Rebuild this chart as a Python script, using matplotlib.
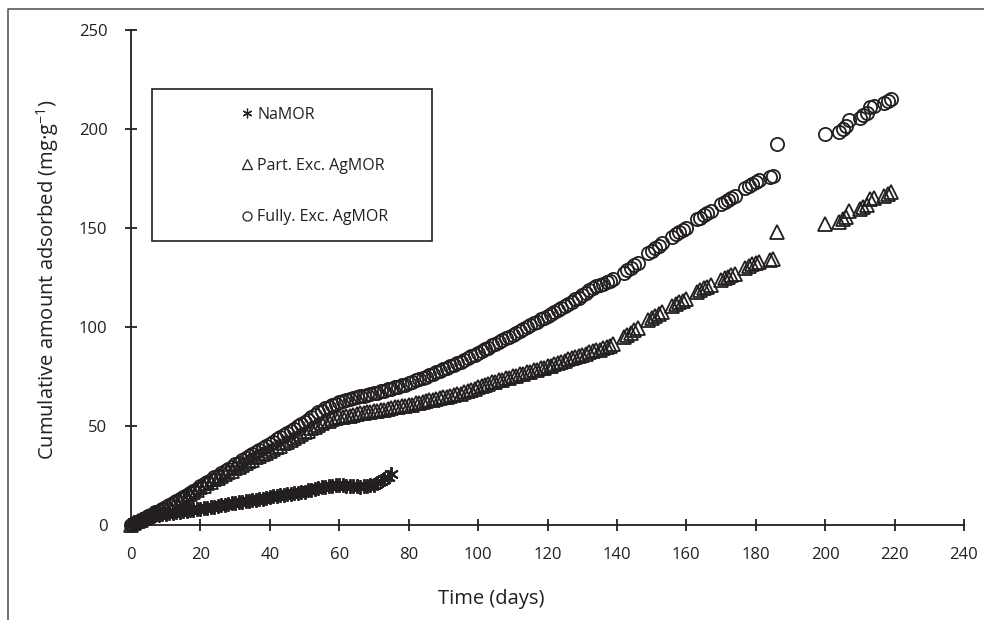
import matplotlib.pyplot as plt
from matplotlib.lines import Line2D
from matplotlib.patches import Rectangle

plt.rcParams['font.family'] = ['Open Sans', 'DejaVu Sans']
plt.rcParams['mathtext.fontset'] = 'custom'
plt.rcParams['mathtext.rm'] = 'Open Sans'
plt.rcParams['mathtext.default'] = 'regular'

INK = '#231f20'

# sampling days (daily up to day 135, then weekday clusters)
days_daily = [
    0, 1, 2, 3, 4, 5, 6, 7, 8, 9, 10,
    11, 12, 13, 14, 15, 16, 17, 18, 19, 20,
    21, 22, 23, 24, 25, 26, 27, 28, 29, 30,
    31, 32, 33, 34, 35, 36, 37, 38, 39, 40,
    41, 42, 43, 44, 45, 46, 47, 48, 49, 50,
    51, 52, 53, 54, 55, 56, 57, 58, 59, 60,
    61, 62, 63, 64, 65, 66, 67, 68, 69, 70,
    71, 72, 73, 74, 75, 76, 77, 78, 79, 80,
    81, 82, 83, 84, 85, 86, 87, 88, 89, 90,
    91, 92, 93, 94, 95, 96, 97, 98, 99, 100,
    101, 102, 103, 104, 105, 106, 107, 108, 109, 110,
    111, 112, 113, 114, 115, 116, 117, 118, 119, 120,
    121, 122, 123, 124, 125, 126, 127, 128, 129, 130,
    131, 132, 133, 134, 135]
days_late = [136, 137, 138, 139, 142, 143, 144, 145, 146,
             149, 150, 151, 152, 153, 156, 157, 158, 159, 160,
             163, 164, 165, 166, 167, 170, 171, 172, 173, 174,
             177, 178, 179, 180, 181, 184, 185, 186,
             200, 204, 205, 206, 207, 210, 211, 212, 213, 214,
             217, 218, 219]

namor_days = days_daily[:76]
namor = [0.0, 1.3, 2.1, 3.1, 3.5, 4.2, 4.4, 4.9, 5.0, 5.5, 5.6,
         6.1, 6.1, 6.6, 6.6, 7.1, 7.1, 7.6, 7.6, 8.1, 8.1,
         8.6, 8.7, 9.2, 9.3, 9.8, 9.9, 10.3, 10.4, 10.9, 10.9,
         11.4, 11.5, 12.0, 12.1, 12.6, 12.7, 13.2, 13.3, 13.8, 13.9,
         14.4, 14.5, 15.0, 15.1, 15.6, 15.7, 16.2, 16.3, 16.8, 16.9,
         17.5, 17.7, 18.3, 18.5, 19.1, 19.2, 19.7, 19.7, 20.1, 20.0,
         20.2, 19.9, 19.9, 19.5, 19.6, 19.4, 19.7, 19.7, 20.2, 20.4,
         21.4, 22.2, 23.4, 24.2, 25.6]

part = [0.0, 0.8, 1.9, 2.6, 3.7, 4.4, 5.4, 6.1, 7.2, 7.9, 9.1,
        9.8, 10.9, 11.6, 12.7, 13.4, 14.7, 15.5, 16.9, 17.7, 19.1,
        19.8, 21.0, 21.7, 23.0, 23.8, 25.0, 25.6, 26.8, 27.4, 28.6,
        29.3, 30.5, 31.1, 32.3, 32.9, 34.1, 34.7, 35.9, 36.5, 37.6,
        38.2, 39.4, 40.0, 41.2, 41.8, 43.1, 43.8, 45.1, 45.8, 47.1,
        47.7, 48.9, 49.5, 50.7, 51.3, 52.3, 52.6, 53.5, 53.8, 54.6,
        54.7, 55.2, 55.3, 55.8, 55.9, 56.4, 56.5, 57.0, 57.1, 57.6,
        57.7, 58.2, 58.3, 58.8, 58.9, 59.4, 59.5, 60.0, 60.1, 60.6,
        60.8, 61.4, 61.6, 62.2, 62.4, 63.0, 63.2, 63.8, 64.0, 64.6,
        64.8, 65.4, 65.6, 66.2, 66.4, 67.2, 67.6, 68.4, 68.8, 69.6,
        70.0, 70.8, 71.2, 72.0, 72.4, 73.1, 73.4, 74.1, 74.4, 75.1,
        75.4, 76.1, 76.4, 77.1, 77.4, 78.1, 78.4, 79.1, 79.4, 80.1,
        80.5, 81.3, 81.7, 82.5, 82.9, 83.7, 84.1, 84.9, 85.3, 86.1,
        86.5, 87.3, 87.7, 88.3, 88.5,
        # late
        89.2, 89.8, 90.5, 91.3, 94.7, 96.0, 97.2, 98.3, 99.5,
        103.5, 104.6, 105.8, 106.6, 107.5, 110.6, 111.5, 112.6, 113.3, 114.2,
        117.6, 118.6, 119.5, 120.3, 121.0, 123.8, 124.6, 125.4, 126.1, 126.8,
        129.9, 130.6, 131.6, 132.2, 132.8, 133.8, 134.4, 148.2,
        151.8, 153.0, 154.6, 155.4, 158.6, 159.6, 160.8, 161.8, 164.6, 165.4,
        166.2, 167.4, 168.3]

fully = [0.0, 0.9, 1.6, 2.7, 3.4, 4.6, 5.3, 6.4, 7.1, 8.2, 9.1,
         10.0, 11.2, 11.9, 13.1, 14.0, 15.2, 16.0, 17.3, 18.3, 19.6,
         20.5, 21.8, 22.7, 24.0, 24.9, 26.2, 27.1, 28.4, 29.3, 30.6,
         31.5, 32.8, 33.7, 35.0, 35.9, 37.1, 37.9, 39.1, 39.9, 41.1,
         42.0, 43.3, 44.2, 45.5, 46.4, 47.7, 48.6, 49.9, 50.8, 52.1,
         53.1, 54.5, 55.4, 56.9, 57.8, 59.1, 59.7, 60.7, 61.3, 62.1,
         62.5, 63.2, 63.5, 64.1, 64.4, 65.0, 65.2, 65.8, 66.0, 66.6,
         66.9, 67.6, 67.9, 68.6, 68.9, 69.6, 69.9, 70.6, 70.9, 71.6,
         72.1, 73.0, 73.5, 74.4, 74.9, 75.8, 76.3, 77.2, 77.7, 78.6,
         79.2, 80.2, 80.8, 81.8, 82.4, 83.5, 84.2, 85.3, 86.0, 87.1,
         87.8, 88.9, 89.6, 90.7, 91.4, 92.5, 93.2, 94.3, 95.0, 96.1,
         96.9, 98.1, 98.9, 100.1, 100.9, 102.0, 102.7, 103.8, 104.5, 105.6,
         106.4, 107.6, 108.4, 109.6, 110.4, 111.7, 112.6, 113.9, 114.8, 116.1,
         117.2, 118.7, 119.9, 120.6, 121.0,
         # late
         121.8, 122.6, 123.3, 124.0, 127.5, 128.6, 129.9, 131.2, 132.4,
         137.4, 138.6, 139.9, 141.0, 142.2, 145.6, 146.8, 148.1, 149.0, 150.1,
         154.6, 155.3, 156.4, 157.5, 158.4, 162.0, 162.9, 164.1, 165.2, 166.0,
         170.3, 171.0, 172.3, 173.1, 174.0, 175.6, 176.4, 192.6,
         197.4, 198.6, 200.2, 201.3, 204.6, 205.6, 207.0, 208.3, 210.9, 211.6,
         213.3, 214.2, 215.2]

ag_days = days_daily + days_late

labels = ['NaMOR', 'Part. Exc. AgMOR', 'Fully. Exc. AgMOR']
x_ticks = [0, 20, 40, 60, 80, 100, 120, 140, 160, 180, 200, 220, 240]
y_ticks = [0, 50, 100, 150, 200, 250]

W, H = 984, 620
fig = plt.figure(figsize=(W / 100, H / 100), dpi=100)
ax = fig.add_axes([131 / W, 1 - 525 / H, 833 / W, 495 / H])

star = (6, 2, 0)
ax.plot(namor_days, namor, ls='none', marker=star, ms=10.5, mec=INK, mew=1.4,
        clip_on=False)
ax.plot(ag_days, part, ls='none', marker='^', ms=9.5, mfc='none', mec=INK,
        mew=1.3, clip_on=False)
ax.plot(ag_days, fully, ls='none', marker='o', ms=9.5, mfc='none', mec=INK,
        mew=1.3, clip_on=False)

ax.set_xlim(0, 240)
ax.set_ylim(0, 250)
ax.set_xticks(x_ticks)
ax.set_yticks(y_ticks)
for s in ['top', 'right']:
    ax.spines[s].set_visible(False)
for s in ['left', 'bottom']:
    ax.spines[s].set_color(INK)
    ax.spines[s].set_linewidth(1.3)
ax.tick_params(direction='inout', length=9, width=1.3, color=INK,
               labelcolor=INK, labelsize=12)
ax.tick_params(axis='y', pad=12.5)
ax.tick_params(axis='x', pad=11)

ax.set_xlabel('Time (days)', fontsize=14.5, color=INK)
ax.xaxis.set_label_coords(0.433, -0.129)
ax.set_ylabel('Cumulative amount adsorbed (mg·g$^{-1}$)', fontsize=14.5, color=INK)
ax.yaxis.set_label_coords(-0.084, 0.495)

# legend box
fig.add_artist(Rectangle((152 / W, 1 - 241 / H), (432 - 152) / W, (241 - 89) / H,
                         transform=fig.transFigure, fill=False, ec=INK, lw=1.2))
handles = [Line2D([], [], ls='none', marker=star, ms=7, mec=INK, mew=0.9),
           Line2D([], [], ls='none', marker='^', ms=6.5, mfc='none', mec=INK, mew=0.9),
           Line2D([], [], ls='none', marker='o', ms=6.5, mfc='none', mec=INK, mew=0.9)]
leg = ax.legend(handles, labels, loc='center left',
                bbox_to_anchor=(242 / W, 1 - 166 / H), bbox_transform=fig.transFigure,
                frameon=False, fontsize=11.5, handlelength=0.6, handletextpad=0.35,
                labelspacing=2.2, borderpad=0, borderaxespad=0)
for t in leg.get_texts():
    t.set_color(INK)

# outer frame of the original figure
fig.add_artist(Line2D([8 / W, 8 / W, 1], [0, 1 - 9 / H, 1 - 9 / H],
                      transform=fig.transFigure, color='#58595b', lw=1.2))

fig.savefig('out.png', dpi=100)
